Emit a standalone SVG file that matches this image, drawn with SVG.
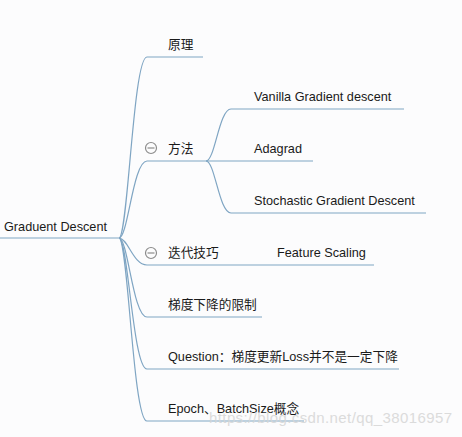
<svg xmlns="http://www.w3.org/2000/svg" width="462" height="437" viewBox="0 0 462 437">
<style>
.bg{fill:#fcfcfd}
.ln{fill:none;stroke:#7fa5c3;stroke-width:1.2}
.t{font-family:"Liberation Sans","Noto Sans CJK SC",sans-serif;font-size:12.7px;fill:#1a1a1a}
.ic{fill:none;stroke:#8c8c8c;stroke-width:1.2}
.wm{font-family:"Liberation Sans",Arial,sans-serif;font-size:15px;fill:#d6d6d6;opacity:0.85}
</style>
<defs>
<g id="collapse"><circle cx="0" cy="0" r="5.5" class="ic"/><line x1="-3.5" y1="0" x2="3.5" y2="0" class="ic"/></g>
</defs>
<rect class="bg" x="0" y="0" width="462" height="437"/>
<g id="connectors">
<path class="ln" d="M0,238 H119"/>
<path class="ln" d="M119,238 C128,238 133,57 147,57 H203"/>
<path class="ln" d="M119,238 C128,238 133,161 147,161 H206"/>
<path class="ln" d="M119,238 C128,238 133,265 147,265 H374"/>
<path class="ln" d="M119,238 C128,238 133,317 147,317 H262"/>
<path class="ln" d="M119,238 C128,238 133,369 147,369 H399"/>
<path class="ln" d="M119,238 C128,238 133,421 147,421 H304"/>
<path class="ln" d="M206,161 C215,161 219,109 231,109 H404"/>
<path class="ln" d="M206,161 H313"/>
<path class="ln" d="M206,161 C215,161 219,213 231,213 H426"/>
</g>
<g id="root"><text class="t" x="4" y="231">Graduent Descent</text></g>
<g id="n-yuanli"><text class="t" x="168" y="49">原理</text></g>
<g id="n-fangfa"><use href="#collapse" x="151" y="148"/><text class="t" x="168" y="153">方法</text></g>
<g id="n-vanilla"><text class="t" x="254" y="101">Vanilla Gradient descent</text></g>
<g id="n-adagrad"><text class="t" x="254" y="153">Adagrad</text></g>
<g id="n-sgd"><text class="t" x="254" y="205">Stochastic Gradient Descent</text></g>
<g id="n-diedai"><use href="#collapse" x="151" y="253"/><text class="t" x="168" y="257">迭代技巧</text></g>
<g id="n-feature"><text class="t" x="277" y="257">Feature Scaling</text></g>
<g id="n-limit"><text class="t" x="168" y="309">梯度下降的限制</text></g>
<g id="n-question"><text class="t" x="168" y="361">Question：梯度更新Loss并不是一定下降</text></g>
<g id="n-epoch"><text class="t" x="168" y="413">Epoch、BatchSize概念</text></g>
<text class="wm" x="209" y="423" textLength="243">https://blog.csdn.net/qq_38016957</text>
</svg>
